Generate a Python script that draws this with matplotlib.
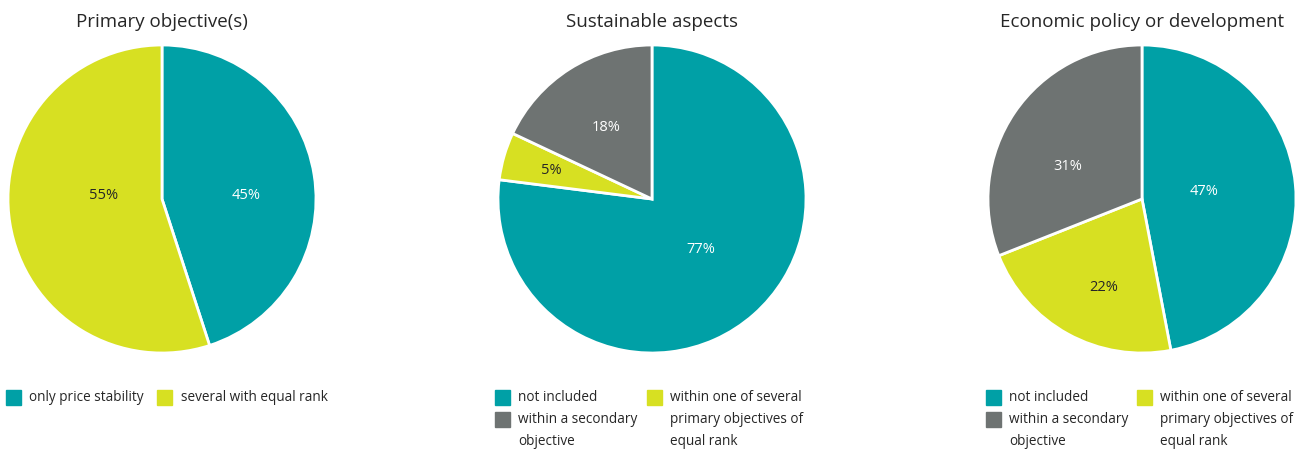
import numpy as np
import matplotlib
matplotlib.use("Agg")
import matplotlib.pyplot as plt
from matplotlib.patches import Rectangle

plt.rcParams['font.family'] = ['Open Sans', 'DejaVu Sans']

# data
titles = ["Primary objective(s)", "Sustainable aspects", "Economic policy or development"]

pie1_labels = ["only price stability", "several with equal rank"]
pie1_values = [45, 55]

pie2_labels = ["not included", "within one of several\nprimary objectives of\nequal rank",
               "within a secondary\nobjective"]
pie2_values = [77, 5, 18]

pie3_labels = ["not included", "within one of several\nprimary objectives of\nequal rank",
               "within a secondary\nobjective"]
pie3_values = [47, 22, 31]

teal = "#00A0A6"
lime = "#D7E022"
grey = "#6E7372"
txt = "#262626"

W, H = 1306, 452
fig = plt.figure(figsize=(W / 100, H / 100), dpi=100)


def fx(x):
    return x / W


def fy(y):
    return 1 - y / H


def draw_pie(cx, cy, r, values, colors, label_dist, label_shift, title):
    ax = fig.add_axes([fx(cx - r), fy(cy + r), 2 * r / W, 2 * r / H])
    wedges, _ = ax.pie(values, colors=colors, startangle=90, counterclock=False,
                       wedgeprops=dict(edgecolor="white", linewidth=2))
    for w, v, d, s, c in zip(wedges, values, label_dist, label_shift, colors):
        ang = np.deg2rad((w.theta1 + w.theta2) / 2 + s)
        tc = txt if c == lime else "white"
        ax.text(d * np.cos(ang), d * np.sin(ang), f"{v}%", ha="center", va="center",
                color=tc, fontsize=10.5)
    ax.set_xlim(-1, 1)
    ax.set_ylim(-1, 1)
    ax.set_aspect("equal")
    ax.axis("off")
    fig.text(fx(cx), fy(22), title, ha="center", va="center", fontsize=13.5, color=txt)


def legend_item(x, y, color, text, tx):
    fig.patches.append(Rectangle((fx(x), fy(y + 7.5)), 15 / W, 15 / H, color=color,
                                 transform=fig.transFigure, figure=fig))
    fig.text(fx(tx), fy(y - 8), text, ha="left", va="top", fontsize=9.8, color=txt,
             linespacing=1.62)


draw_pie(162, 200, 154, pie1_values, [teal, lime], [0.55, 0.38], [-6, -13], titles[0])
draw_pie(652, 200, 154, pie2_values, [teal, lime, grey], [0.45, 0.68, 0.56], [3.6, 0, 0], titles[1])
draw_pie(1142, 200, 154, pie3_values, [teal, lime, grey], [0.41, 0.62, 0.53], [2.7, 5, 10], titles[2])

# legends
legend_item(6, 398, teal, pie1_labels[0], 29)
legend_item(157, 398, lime, pie1_labels[1], 181)

legend_item(495, 398, teal, pie2_labels[0], 518)
legend_item(495, 420, grey, pie2_labels[2], 518)
legend_item(647, 398, lime, pie2_labels[1], 670)

legend_item(986, 398, teal, pie3_labels[0], 1009)
legend_item(986, 420, grey, pie3_labels[2], 1009)
legend_item(1137, 398, lime, pie3_labels[1], 1160)

fig.savefig("out.png", dpi=100)
